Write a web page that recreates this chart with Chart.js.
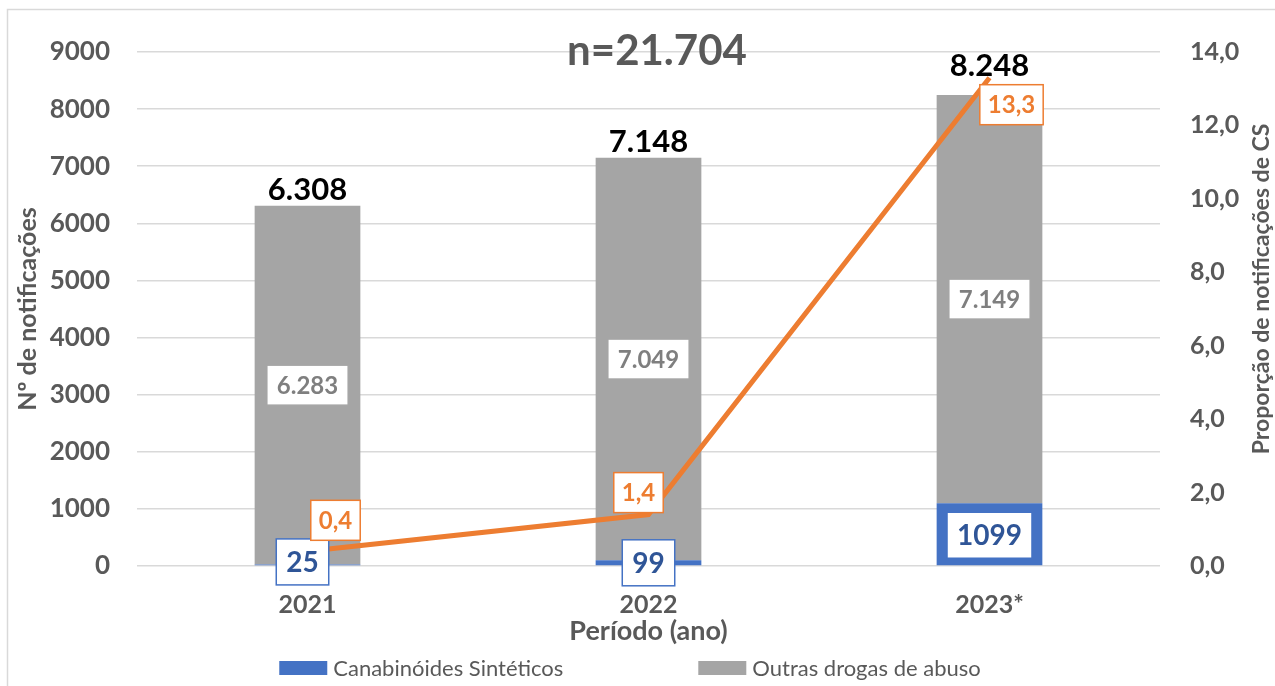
<!DOCTYPE html>
<html>
<head>
<meta charset="utf-8">
<script src="https://cdn.jsdelivr.net/npm/chart.js@4"></script>
<style>
html,body{margin:0;padding:0;background:#fff;}
#wrap{width:1275px;height:686px;position:relative;}
</style>
</head>
<body>
<div id="wrap"><canvas id="c" width="1275" height="686"></canvas></div>
<script>
// ---- data ----
const categories = ['2021', '2022', '2023*'];
const canabinoides = [25, 99, 1099];
const outrasDrogas = [6283, 7049, 7149];
const proporcaoCS = [0.4, 1.4, 13.3];
const leftTicks = [0, 1000, 2000, 3000, 4000, 5000, 6000, 7000, 8000, 9000];
const rightTicks = [0, 2, 4, 6, 8, 10, 12, 14];
const seriesNames = ['Canabinóides Sintéticos', 'Outras drogas de abuso', 'Proporção de notificações de CS'];

const FONT = 'Lato';
const AXIS_COLOR = '#595959';
const BLUE = '#4472C4', GRAY = '#A5A5A5', ORANGE = '#ED7D31';

const fmtThousands = v => String(v).replace(/\B(?=(\d{3})+(?!\d))/g, '.');
const fmtDec = v => v.toFixed(1).replace('.', ',');

function drawBox(ctx, text, cx, cy, o) {
  ctx.save();
  ctx.font = 'bold ' + o.size + 'px ' + FONT;
  const w = ctx.measureText(text).width + 2 * o.padX;
  const h = o.size + 2 * o.padY;
  ctx.fillStyle = '#fff';
  ctx.fillRect(cx - w / 2, cy - h / 2, w, h);
  ctx.lineWidth = 1.5;
  ctx.strokeStyle = o.border;
  ctx.strokeRect(cx - w / 2, cy - h / 2, w, h);
  ctx.fillStyle = o.color;
  ctx.textAlign = 'center';
  ctx.textBaseline = 'middle';
  ctx.fillText(text, cx, cy + 1);
  ctx.restore();
}

const decorPlugin = {
  id: 'decor',
  beforeDraw(chart) {
    const ctx = chart.ctx;
    ctx.save();
    ctx.fillStyle = '#fff';
    ctx.fillRect(0, 0, chart.width, chart.height);
    ctx.strokeStyle = '#D9D9D9';
    ctx.lineWidth = 1.5;
    ctx.strokeRect(7.5, 9.5, chart.width + 10, chart.height + 10);
    ctx.restore();
  },
  afterDatasetsDraw(chart) {
    const ctx = chart.ctx;
    const m0 = chart.getDatasetMeta(0), m1 = chart.getDatasetMeta(1), m2 = chart.getDatasetMeta(2);
    const lineOffsets = [[28, -31], [-10, -22], [22, 27]];
    const csOffsets = [[-5, -3], [0, 0], [0, 1]];
    const totalGaps = [6, 6, 19];
    // gray segment labels
    m1.data.forEach((el, i) => {
      drawBox(ctx, fmtThousands(outrasDrogas[i]), el.x, (el.y + el.base) / 2,
        {size: 24, padX: 10, padY: 8, border: '#A5A5A5', color: '#7F7F7F'});
    });
    // totals
    ctx.save();
    ctx.font = 'bold 31px ' + FONT;
    ctx.fillStyle = '#000';
    ctx.textAlign = 'center';
    ctx.textBaseline = 'alphabetic';
    m1.data.forEach((el, i) => {
      ctx.fillText(fmtThousands(canabinoides[i] + outrasDrogas[i]), el.x, el.y - totalGaps[i]);
    });
    ctx.restore();
    // CS labels
    m0.data.forEach((el, i) => {
      drawBox(ctx, String(canabinoides[i]), el.x + csOffsets[i][0], (el.y + el.base) / 2 + csOffsets[i][1],
        {size: 28, padX: 10, padY: 9, border: BLUE, color: '#2F5597'});
    });
    // line labels
    m2.data.forEach((el, i) => {
      drawBox(ctx, fmtDec(proporcaoCS[i]), el.x + lineOffsets[i][0], el.y + lineOffsets[i][1],
        {size: 24, padX: 8, padY: 8, border: ORANGE, color: ORANGE});
    });
  },
  afterDraw(chart) {
    const ctx = chart.ctx;
    const ca = chart.chartArea;
    ctx.save();
    // n total
    const total = canabinoides.concat(outrasDrogas).reduce((a, b) => a + b, 0);
    ctx.font = 'bold 42px ' + FONT;
    ctx.fillStyle = AXIS_COLOR;
    ctx.textAlign = 'center';
    ctx.textBaseline = 'middle';
    ctx.fillText('n=' + fmtThousands(total), 657, 51);
    // right axis title (reads bottom to top)
    ctx.save();
    ctx.translate(1262, 289);
    ctx.rotate(-Math.PI / 2);
    ctx.font = 'bold 23px ' + FONT;
    ctx.fillText(seriesNames[2], 0, 0);
    ctx.restore();
    // legend
    ctx.font = '22px ' + FONT;
    ctx.textAlign = 'left';
    const items = [[seriesNames[0], BLUE], [seriesNames[1], GRAY]];
    const boxW = 48, boxH = 14, gap = 6, spacing = 135;
    const widths = items.map(it => boxW + gap + ctx.measureText(it[0]).width);
    const totalW = widths[0] + spacing + widths[1];
    let x = 630 - totalW / 2;
    const cy = 668;
    items.forEach((it, i) => {
      ctx.fillStyle = it[1];
      ctx.fillRect(x, cy - boxH / 2, boxW, boxH);
      ctx.fillStyle = AXIS_COLOR;
      ctx.fillText(it[0], x + boxW + gap, cy + 1);
      x += widths[i] + spacing;
    });
    ctx.restore();
  }
};

new Chart(document.getElementById('c'), {
  data: {
    labels: categories,
    datasets: [
      {type: 'bar', label: seriesNames[0], data: canabinoides, backgroundColor: BLUE, stack: 's', yAxisID: 'y', order: 2,
       categoryPercentage: 1, barPercentage: 0.31},
      {type: 'bar', label: seriesNames[1], data: outrasDrogas, backgroundColor: GRAY, stack: 's', yAxisID: 'y', order: 2,
       categoryPercentage: 1, barPercentage: 0.31},
      {type: 'line', label: seriesNames[2], data: proporcaoCS, borderColor: ORANGE, backgroundColor: ORANGE,
       borderWidth: 5, pointRadius: 0, yAxisID: 'y1', order: 0, tension: 0}
    ]
  },
  options: {
    responsive: false,
    animation: false,
    layout: {padding: {top: 52, bottom: 41, left: 0, right: 0}},
    plugins: {legend: {display: false}, tooltip: {enabled: false}, title: {display: false}},
    scales: {
      x: {
        stacked: true,
        grid: {display: false, drawTicks: false},
        border: {display: false},
        ticks: {color: AXIS_COLOR, font: {family: FONT, size: 25, weight: 'bold'}, padding: 24},
        title: {display: true, text: 'Período (ano)', color: AXIS_COLOR, font: {family: FONT, size: 27, weight: 'bold'}, padding: {top: 0, bottom: -2}},
        afterFit: s => { s.height = 79; }
      },
      y: {
        stacked: true,
        position: 'left',
        min: 0, max: 9000,
        afterBuildTicks: s => { s.ticks = leftTicks.map(v => ({value: v})); },
        grid: {color: '#D9D9D9', lineWidth: 1.5, drawTicks: false},
        border: {display: false},
        ticks: {color: AXIS_COLOR, font: {family: FONT, size: 26, weight: 'bold'}, padding: 27, callback: v => String(v)},
        title: {display: true, text: 'Nº de notificações', color: AXIS_COLOR, font: {family: FONT, size: 25, weight: 'bold'}, padding: {top: 13, bottom: 0}},
        afterFit: s => { s.width = 137; }
      },
      y1: {
        position: 'right',
        min: 0, max: 14,
        afterBuildTicks: s => { s.ticks = rightTicks.map(v => ({value: v})); },
        grid: {display: false, drawTicks: false},
        border: {display: false},
        ticks: {color: AXIS_COLOR, font: {family: FONT, size: 25, weight: 'bold'}, padding: 30, callback: v => fmtDec(v)},
        afterFit: s => { s.width = 115; }
      }
    }
  },
  plugins: [decorPlugin]
});
</script>
</body>
</html>
